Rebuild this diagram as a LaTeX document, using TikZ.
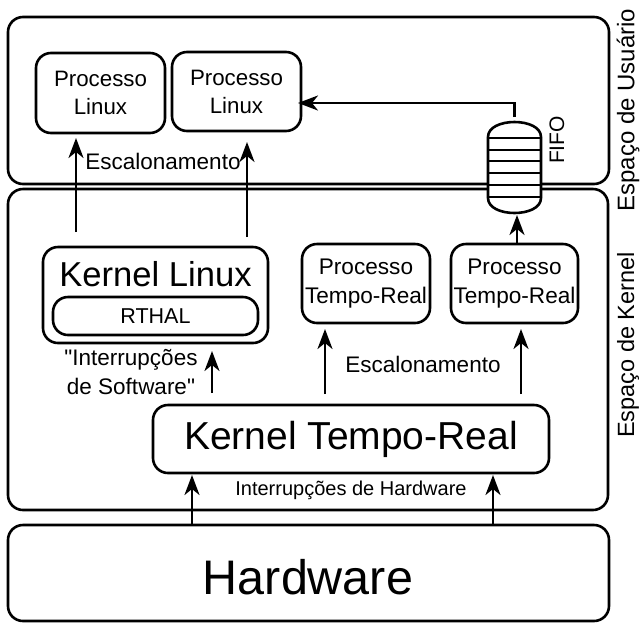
\documentclass[tikz,border=0pt]{standalone}
\usepackage{fontspec}
\setmainfont{Liberation Sans}
\usetikzlibrary{arrows.meta}
\newcommand{\fs}[1]{\fontsize{#1}{\fpeval{#1*1.25}}\selectfont}
\begin{document}
\begin{tikzpicture}[x=1pt,y=-1pt,
  every node/.style={inner sep=0pt, outer sep=0pt, font=\fs{22.5}},
  bigbox/.style={draw, line width=2.6pt, rounded corners=15pt},
  box/.style={draw, line width=2.6pt, rounded corners=15pt, align=center},
  arr/.style={line width=2.6pt, -{Stealth[length=20pt,width=15pt,inset=6pt]}},
  lbl/.style={align=center},
]
\useasboundingbox (0,0) rectangle (640,625);
% big boxes
\node[bigbox, minimum width=601pt, minimum height=167pt] (user) at (308.5,100.5) {};
\node[bigbox, minimum width=600pt, minimum height=321pt] (kern) at (308,349.5) {};
\node[bigbox, minimum width=601pt, minimum height=96pt] (hw) at (308.5,573) {};
\node[font=\fs{48.5}] (hwt) at (308,577) {Hardware};
% user space
\node[box, minimum width=129pt, minimum height=80pt, font=\fs{22.3}] (pl1) at (100.5,93) {Processo\\[0pt]Linux};
\node[box, minimum width=129pt, minimum height=79pt, font=\fs{22.3}] (pl2) at (236.5,91.5) {Processo\\[0pt]Linux};
% kernel space
\node[box, minimum width=225pt, minimum height=96pt] (kl) at (155.5,295) {};
\node[font=\fs{34.6}] (klt) at (155.5,274) {Kernel Linux};
\node[box, minimum width=205pt, minimum height=38pt, font=\fs{21.5}] (rthal) at (155.5,316) {RTHAL};
\node[box, minimum width=128pt, minimum height=79pt, font=\fs{22.6}] (ptr1) at (366,283.5) {Processo\\Tempo-Real};
\node[box, minimum width=127pt, minimum height=79pt, font=\fs{22.6}] (ptr2) at (514.5,283.5) {Processo\\Tempo-Real};
\node[box, minimum width=396pt, minimum height=68pt, font=\fs{39}] (ktr) at (351,439) {Kernel Tempo-Real};
% FIFO
\node[minimum width=53pt, minimum height=91pt] (fifo) at (514.5,167.5) {};
\fill[white] (488,137) .. controls (488,117) and (541,117) .. (541,137) -- (541,198) .. controls (541,218) and (488,218) .. (488,198) -- cycle;
\draw[line width=2.6pt] (488,137) .. controls (488,117) and (541,117) .. (541,137) -- (541,198) .. controls (541,218) and (488,218) .. (488,198) -- cycle;
\foreach \yy in {138,150,161,173,185,197} \draw[line width=2.6pt] (488,\yy) -- (541,\yy);
\node[rotate=90, font=\fs{21}] (fifol) at (557,140) {FIFO};
% side labels
\node[rotate=90, font=\fs{24}] (usl) at (628,110) {Espaço de Usuário};
\node[rotate=90, font=\fs{23.5}] (ksl) at (628,345) {Espaço de Kernel};
% labels
\node (esc1) at (163,161) {Escalonamento};
\node (esc2) at (423,364) {Escalonamento};
\node[lbl, font=\fs{22.5}] (isw) at (131,372) {\textquotedbl Interrupções\\de Software\textquotedbl};
\node[font=\fs{20}] (ihw) at (351,490) {Interrupções de Hardware};
% arrows
\draw[arr] ([xshift=-79.5pt,yshift=15pt]kl.north) -- ([xshift=-24.5pt,yshift=-5pt]pl1.south);
\draw[arr] ([xshift=91.5pt,yshift=10pt]kl.north) -- ([xshift=10.5pt,yshift=-11pt]pl2.south);
\draw[arr] ([yshift=5pt]fifo.north) |- ([xshift=-3pt,yshift=-11.5pt]pl2.east);
\draw[arr] ([xshift=2.5pt]ptr2.north) -- ([xshift=2.5pt,yshift=-2pt]fifo.south);
\draw[arr] ([xshift=-139pt,yshift=12pt]ktr.north) -- ([xshift=56.5pt,yshift=-8pt]kl.south);
\draw[arr] ([xshift=-26pt,yshift=11pt]ktr.north) -- ([xshift=-41pt,yshift=-6pt]ptr1.south);
\draw[arr] ([xshift=170pt,yshift=11pt]ktr.north) -- ([xshift=6.5pt,yshift=-6pt]ptr2.south);
\draw[arr] ([xshift=-116.5pt]hw.north) -- ([xshift=-159pt,yshift=-2pt]ktr.south);
\draw[arr] ([xshift=184.5pt]hw.north) -- ([xshift=142pt,yshift=-2pt]ktr.south);
\end{tikzpicture}
\end{document}
